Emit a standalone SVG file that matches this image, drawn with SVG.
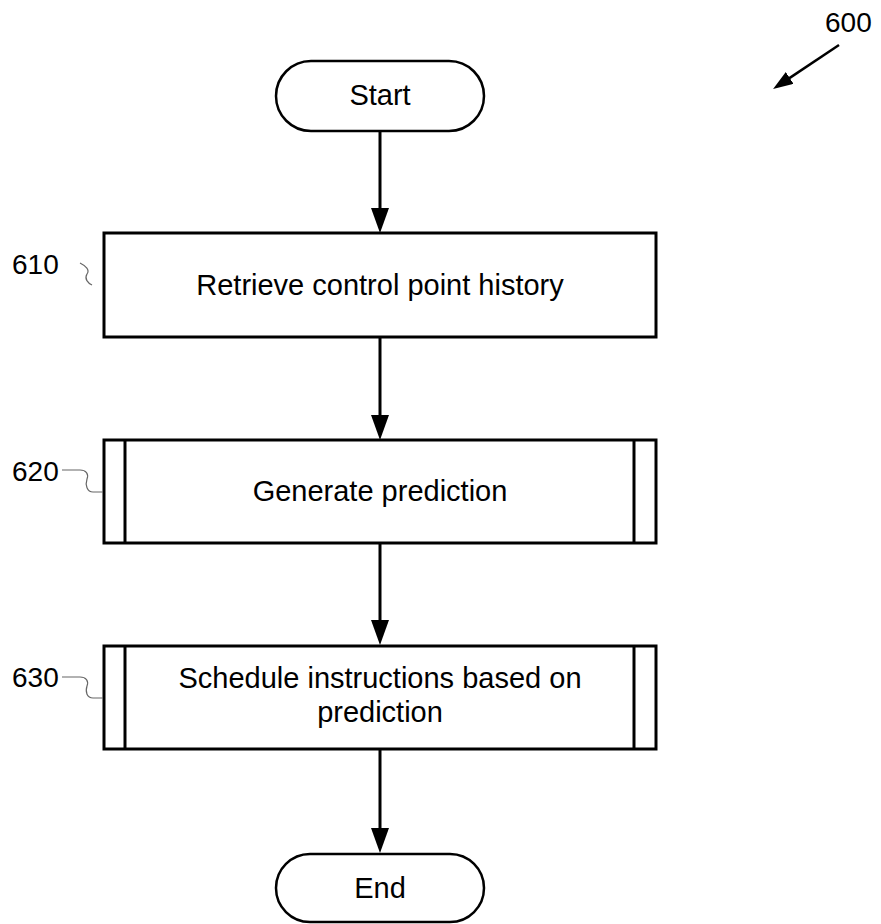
<svg xmlns="http://www.w3.org/2000/svg" width="881" height="924" viewBox="0 0 881 924">
<style>
  .shape { fill: #fff; stroke: #000; stroke-width: 3; }
  .term { fill: #fff; stroke: #000; stroke-width: 2.5; }
  .txt { font-family: "Liberation Sans", Arial, sans-serif; font-size: 29px; fill: #000; text-anchor: middle; }
  .lbl { font-family: "Liberation Sans", Arial, sans-serif; font-size: 28px; fill: #000; }
  .conn { stroke: #000; stroke-width: 3; fill: none; }
  .lead { stroke: #666; stroke-width: 1.2; fill: none; }
</style>
<defs>
  <marker id="arr" viewBox="0 0 25 18" markerWidth="25" markerHeight="18" markerUnits="userSpaceOnUse" refX="15" refY="9" orient="auto">
    <path d="M0,0 L25,9 L0,18 Z" fill="#000"/>
  </marker>
  <marker id="arrS" viewBox="0 0 20 14" markerWidth="20" markerHeight="14" markerUnits="userSpaceOnUse" refX="12" refY="7" orient="auto">
    <path d="M0,0 L20,7 L0,14 Z" fill="#000"/>
  </marker>
</defs>
<rect width="881" height="924" fill="#fff"/>

<g id="connectors">
  <line class="conn" x1="380" y1="131" x2="380" y2="223" marker-end="url(#arr)"/>
  <line class="conn" x1="380" y1="337" x2="380" y2="430" marker-end="url(#arr)"/>
  <line class="conn" x1="380" y1="543" x2="380" y2="635" marker-end="url(#arr)"/>
  <line class="conn" x1="380" y1="749" x2="380" y2="843" marker-end="url(#arr)"/>
</g>

<g id="ref600">
  <text class="lbl" x="825" y="32">600</text>
  <line x1="839" y1="45" x2="779.7" y2="84.6" stroke="#000" stroke-width="2.5" marker-end="url(#arrS)"/>
</g>

<g id="start">
  <rect class="term" x="276" y="61" width="208" height="70" rx="35" ry="35"/>
  <text class="txt" x="380" y="105">Start</text>
</g>

<g id="n610">
  <rect class="shape" x="104" y="233" width="552" height="104"/>
  <text class="txt" x="380" y="295">Retrieve control point history</text>
  <text class="lbl" x="12" y="274">610</text>
  <path class="lead" d="M80,263 C86,266 90,270 87,274 C84,279 88,283 92,285"/>
</g>

<g id="n620">
  <rect class="shape" x="104" y="440" width="552" height="103"/>
  <line class="shape" x1="125" y1="440" x2="125" y2="543"/>
  <line class="shape" x1="634" y1="440" x2="634" y2="543"/>
  <text class="txt" x="380" y="501">Generate prediction</text>
  <text class="lbl" x="12" y="481">620</text>
  <path class="lead" d="M62,470 L80,470 C86,470 89,474 87,479 C85,485 87,492 93,492 L103,492"/>
</g>

<g id="n630">
  <rect class="shape" x="104" y="646" width="552" height="103"/>
  <line class="shape" x1="125" y1="646" x2="125" y2="749"/>
  <line class="shape" x1="634" y1="646" x2="634" y2="749"/>
  <text class="txt" x="380" y="688">Schedule instructions based on</text>
  <text class="txt" x="380" y="722">prediction</text>
  <text class="lbl" x="12" y="687">630</text>
  <path class="lead" d="M62,677 L80,677 C86,677 89,681 87,686 C85,692 87,698 93,698 L103,698"/>
</g>

<g id="end">
  <rect class="term" x="276" y="854" width="208" height="68" rx="34" ry="34"/>
  <text class="txt" x="380" y="898">End</text>
</g>
</svg>
